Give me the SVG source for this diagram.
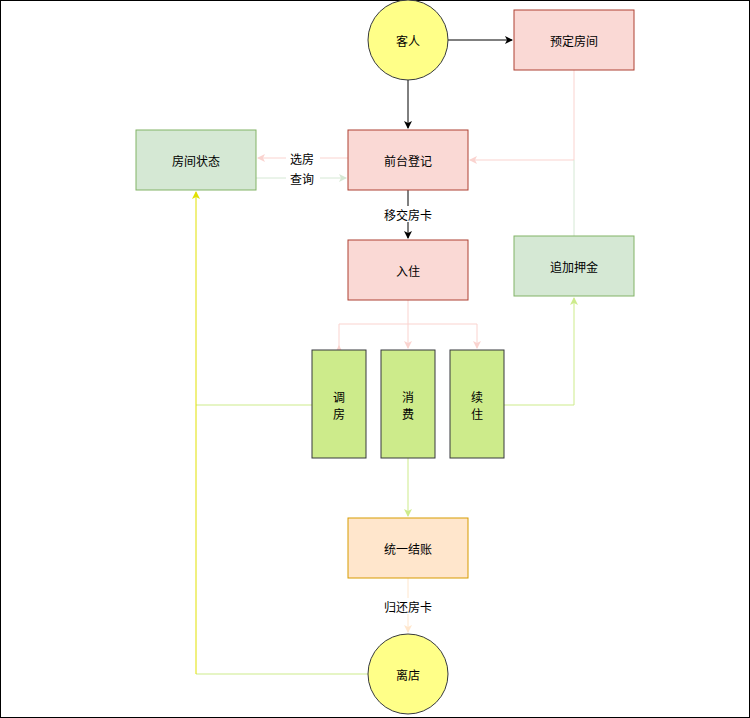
<svg xmlns="http://www.w3.org/2000/svg" width="750" height="718" viewBox="0 0 750 718">
<style>
text{font-family:"Noto Sans CJK SC","Liberation Sans",sans-serif;font-size:12px;fill:#000;text-anchor:middle;dominant-baseline:central}
.c{fill:none;stroke-width:1}
</style>
<defs>
<marker id="mb" markerWidth="8" markerHeight="8" refX="7" refY="4" orient="auto" markerUnits="userSpaceOnUse"><path d="M0,0 L8,4 L0,8 L2,4Z" fill="#000"/></marker>
<marker id="mp" markerWidth="8" markerHeight="8" refX="7" refY="4" orient="auto" markerUnits="userSpaceOnUse"><path d="M0,0 L8,4 L0,8 L2,4Z" fill="#fad3cf"/></marker>
<marker id="mg" markerWidth="8" markerHeight="8" refX="7" refY="4" orient="auto" markerUnits="userSpaceOnUse"><path d="M0,0 L8,4 L0,8 L2,4Z" fill="#d5e8d4"/></marker>
<marker id="ml" markerWidth="8" markerHeight="8" refX="7" refY="4" orient="auto" markerUnits="userSpaceOnUse"><path d="M0,0 L8,4 L0,8 L2,4Z" fill="#cdeb8b"/></marker>
<marker id="my" markerWidth="8" markerHeight="8" refX="7" refY="4" orient="auto" markerUnits="userSpaceOnUse"><path d="M0,0 L8,4 L0,8 L2,4Z" fill="#e1e100"/></marker>
<marker id="mo" markerWidth="8" markerHeight="8" refX="7" refY="4" orient="auto" markerUnits="userSpaceOnUse"><path d="M0,0 L8,4 L0,8 L2,4Z" fill="#ffe6cc"/></marker>
</defs>
<rect x="0.5" y="0.5" width="749" height="717" fill="#fff" stroke="#000"/>
<g id="connectors">
<path class="c" stroke="#000" d="M448,40 H512" marker-end="url(#mb)"/>
<path class="c" stroke="#000" d="M408,80 V128" marker-end="url(#mb)"/>
<path class="c" stroke="#000" d="M408,190 V238" marker-end="url(#mb)"/>
<path class="c" stroke="#fad3cf" d="M574,70 V160 H470" marker-end="url(#mp)"/>
<path class="c" stroke="#d5e8d4" d="M574,236 V160"/>
<path class="c" stroke="#fad3cf" d="M348,158 H258" marker-end="url(#mp)"/>
<path class="c" stroke="#d5e8d4" d="M256,178 H346" marker-end="url(#mg)"/>
<path class="c" stroke="#fad3cf" d="M408,300 V348" marker-end="url(#mp)"/>
<path class="c" stroke="#fad3cf" d="M339,348 V324 H477 V348" marker-end="url(#mp)"/>
<path class="c" stroke="#fad3cf" d="M339,348 V346" marker-end="url(#mp)"/>
<path class="c" stroke="#cdeb8b" d="M504,405 H574 V298" marker-end="url(#ml)"/>
<path class="c" stroke="#cdeb8b" d="M312,405 H196"/>
<path class="c" stroke="#cdeb8b" d="M368,674 H196"/>
<path class="c" stroke="#e1e100" d="M196,674 V192" marker-end="url(#my)"/>
<path class="c" stroke="#cdeb8b" d="M408,458 V516" marker-end="url(#ml)"/>
<path class="c" stroke="#ffe6cc" d="M408,578 V632" marker-end="url(#mo)"/>
<rect x="286" y="150" width="34" height="16" fill="#fff"/><text x="302" y="158">选房</text>
<rect x="286" y="170" width="34" height="16" fill="#fff"/><text x="302" y="178">查询</text>
<rect x="380" y="206" width="56" height="16" fill="#fff"/><text x="408" y="214">移交房卡</text>
<rect x="380" y="598" width="56" height="16" fill="#fff"/><text x="408" y="606">归还房卡</text>
</g>
<g id="guest"><circle cx="408" cy="40" r="40" fill="#ffff88" stroke="#36393d"/><text x="408" y="40">客人</text></g>
<g id="reserve"><rect x="514" y="10" width="120" height="60" fill="#fad9d5" stroke="#ae4132"/><text x="574" y="40">预定房间</text></g>
<g id="front"><rect x="348" y="130" width="120" height="60" fill="#fad9d5" stroke="#ae4132"/><text x="408" y="160">前台登记</text></g>
<g id="status"><rect x="136" y="130" width="120" height="60" fill="#d5e8d4" stroke="#82b366"/><text x="196" y="160">房间状态</text></g>
<g id="checkin"><rect x="348" y="240" width="120" height="60" fill="#fad9d5" stroke="#ae4132"/><text x="408" y="270">入住</text></g>
<g id="deposit"><rect x="514" y="236" width="120" height="60" fill="#d5e8d4" stroke="#82b366"/><text x="574" y="266">追加押金</text></g>
<g id="change"><rect x="312" y="350" width="54" height="108" fill="#cdeb8b" stroke="#36393d"/><text x="339" y="396">调</text><text x="339" y="413">房</text></g>
<g id="consume"><rect x="381" y="350" width="54" height="108" fill="#cdeb8b" stroke="#36393d"/><text x="408" y="396">消</text><text x="408" y="413">费</text></g>
<g id="extend"><rect x="450" y="350" width="54" height="108" fill="#cdeb8b" stroke="#36393d"/><text x="477" y="396">续</text><text x="477" y="413">住</text></g>
<g id="settle"><rect x="348" y="518" width="120" height="60" fill="#ffe6cc" stroke="#d79b00"/><text x="408" y="548">统一结账</text></g>
<g id="leave"><circle cx="408" cy="674" r="40" fill="#ffff88" stroke="#36393d"/><text x="408" y="674">离店</text></g>
</svg>
